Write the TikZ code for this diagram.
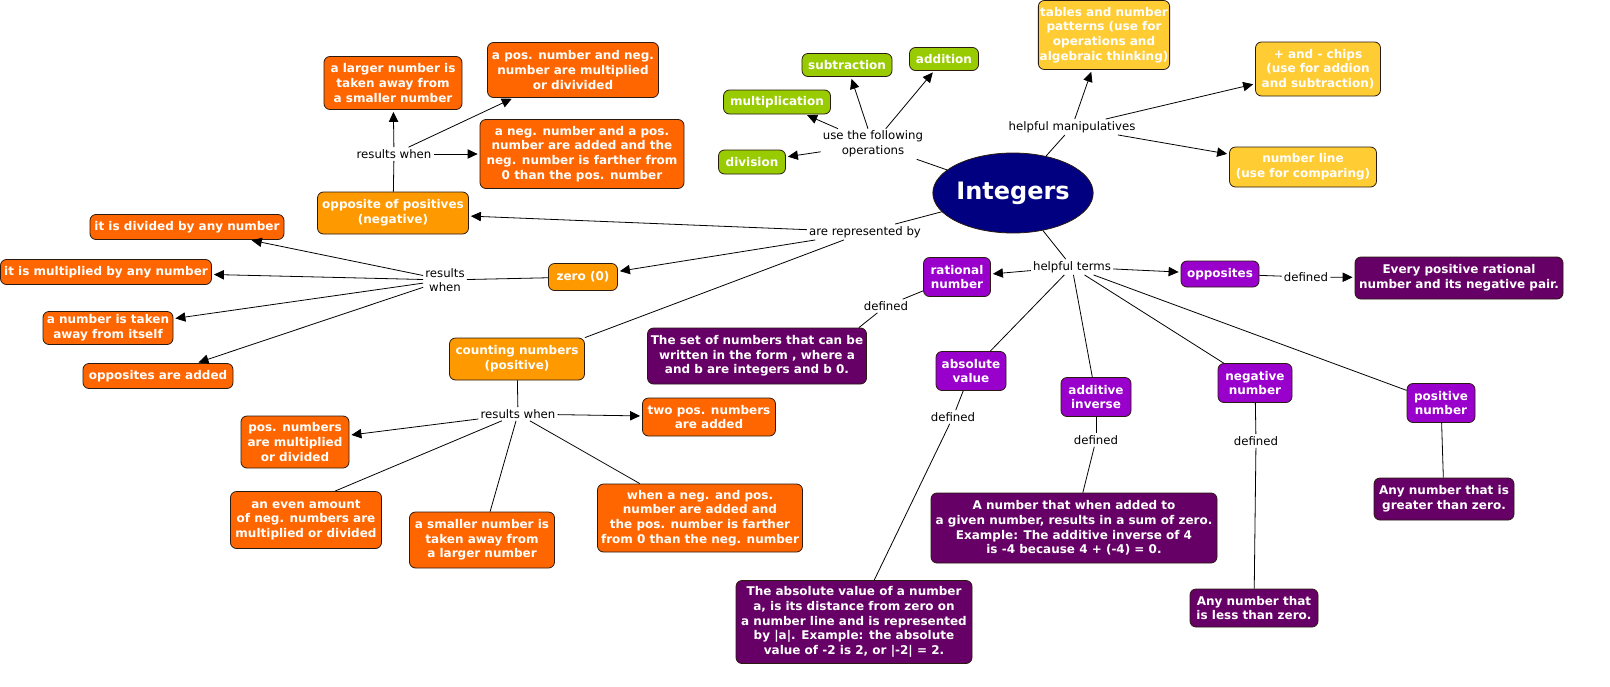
\documentclass[tikz,border=0pt]{standalone}
\usepackage{fontspec}
\setmainfont{DejaVu Sans}
\usetikzlibrary{arrows.meta,shapes.geometric}
\definecolor{cgreen}{HTML}{99CC00}
\definecolor{cyellow}{HTML}{FFCC33}
\definecolor{corange}{HTML}{FF9900}
\definecolor{cdorange}{HTML}{FF6600}
\definecolor{cpurple}{HTML}{9900CC}
\definecolor{cdpurple}{HTML}{660066}
\definecolor{cnavy}{HTML}{000080}
\definecolor{cborder}{HTML}{2A1A10}
\newcommand\bxfont{\fontsize{9}{11}\selectfont}
\newcommand\lbfont{\fontsize{8.8}{11}\selectfont}
\tikzset{
  box/.style={draw=cborder, line width=0.6pt, rounded corners=4.5pt, align=center,
    text=white, font=\bfseries\bxfont, inner sep=1pt},
  sz/.style 2 args={minimum width=#1*0.75pt, minimum height=#2*0.75pt},
  lbl/.style={align=center, font=\lbfont, inner sep=1.5pt, text=black},
  ln/.style={draw=black, line width=0.6pt},
  ar/.style={ln, shorten >=1.5pt, -{Triangle[length=7.5pt,width=7pt]}},
}
\begin{document}
\begin{tikzpicture}[x=0.75pt,y=-0.75pt]
\fill[white] (0,0) rectangle (1610,686);
\useasboundingbox (0,0) rectangle (1610,686);

% central
\node[ellipse, fill=cnavy, draw=cborder, line width=0.6pt, minimum width=146*0.75pt, minimum height=80*0.75pt,
  inner sep=0pt, text=white, font=\bfseries\fontsize{18}{20}\selectfont] (int) at (1013,193) {Integers};

% operations
\node[box, fill=cgreen, sz={90}{23}] (sub) at (847,65) {subtraction};
\node[box, fill=cgreen, sz={69}{23}] (add) at (944,59) {addition};
\node[box, fill=cgreen, sz={107}{24}] (mul) at (777,102) {multiplication};
\node[box, fill=cgreen, sz={67}{24}] (div) at (752,162) {division};
\node[lbl] (uto) at (873,144) {use the following\\operations};

% manipulatives
\node[box, fill=cyellow, sz={113}{69}] (tab) at (1104,35) {tables and number\\patterns (use for\\operations and\\algebraic thinking)};
\node[box, fill=cyellow, sz={125}{54}] (chp) at (1318,69) {+ and - chips\\(use for addion\\and subtraction)};
\node[box, fill=cyellow, sz={147}{40}] (nli) at (1303,167) {number line\\(use for comparing)};
\node[lbl] (hm) at (1072,127) {helpful manipulatives};

% represented
\node[lbl] (arb) at (865,232) {are represented by};
\node[box, fill=corange, sz={151}{42}] (opp) at (393,213) {opposite of positives\\(negative)};
\node[box, fill=corange, sz={69}{27}] (zer) at (583,277) {zero (0)};
\node[box, fill=corange, sz={135}{42}] (cnt) at (517,359) {counting numbers\\(positive)};

% negative results
\node[lbl] (rw1) at (394,154) {results when};
\node[box, fill=cdorange, sz={138}{53}] (lrg) at (393,83) {a larger number is\\taken away from\\a smaller number};
\node[box, fill=cdorange, sz={171}{55}] (pnm) at (573,70) {a pos. number and neg.\\number are multiplied\\or divivided};
\node[box, fill=cdorange, sz={204}{69}] (npa) at (582,154) {a neg. number and a pos.\\number are added and the\\neg. number is farther from\\0 than the pos. number};

% zero results
\node[lbl] (rw2) at (445,280) {results\\when};
\node[box, fill=cdorange, sz={194}{25}] (dvd) at (187,227) {it is divided by any number};
\node[box, fill=cdorange, sz={211}{25}] (mlt) at (106,272) {it is multiplied by any number};
\node[box, fill=cdorange, sz={130}{33}] (tks) at (108,328) {a number is taken\\away from itself};
\node[box, fill=cdorange, sz={150}{25}] (opa) at (158,376) {opposites are added};

% positive results
\node[lbl] (rw3) at (518,414) {results when};
\node[box, fill=cdorange, sz={108}{52}] (pmd) at (295,442) {pos. numbers\\are multiplied\\or divided};
\node[box, fill=cdorange, sz={133}{38}] (tpa) at (709,417) {two pos. numbers\\are added};
\node[box, fill=cdorange, sz={151}{57}] (eve) at (306,520) {an even amount\\of neg. numbers are\\multiplied or divided};
\node[box, fill=cdorange, sz={145}{56}] (sml) at (482,540) {a smaller number is\\taken away from\\a larger number};
\node[box, fill=cdorange, sz={205}{68}] (wnp) at (700,518) {when a neg. and pos.\\number are added and\\the pos. number is farther\\from 0 than the neg. number};

% helpful terms
\node[lbl] (ht) at (1072,267) {helpful terms};
\node[box, fill=cpurple, sz={67}{39}] (rat) at (957,277) {rational\\number};
\node[box, fill=cpurple, sz={78}{26}] (ops) at (1220,274) {opposites};
\node[box, fill=cpurple, sz={70}{39}] (abv) at (971,371) {absolute\\value};
\node[box, fill=cpurple, sz={70}{39}] (adi) at (1096,397) {additive\\inverse};
\node[box, fill=cpurple, sz={74}{39}] (neg) at (1255,383) {negative\\number};
\node[box, fill=cpurple, sz={68}{39}] (pos) at (1441,403) {positive\\number};

% definitions
\node[box, fill=cdpurple, sz={208}{42}] (evp) at (1459,278) {Every positive rational\\number and its negative pair.};
\node[box, fill=cdpurple, sz={219}{56}] (set) at (757,356) {The set of numbers that can be\\written in the form , where a\\and b are integers and b 0.};
\node[box, fill=cdpurple, sz={236}{83}] (abd) at (854,622) {The absolute value of a number\\a, is its distance from zero on\\a number line and is represented\\by |a|. Example: the absolute\\value of -2 is 2, or |-2| = 2.};
\node[box, fill=cdpurple, sz={286}{70}] (add2) at (1074,528) {A number that when added to\\a given number, results in a sum of zero.\\Example: The additive inverse of 4\\is -4 because 4 + (-4) = 0.};
\node[box, fill=cdpurple, sz={128}{38}] (lss) at (1254,608) {Any number that\\is less than zero.};
\node[box, fill=cdpurple, sz={140}{42}] (grt) at (1444,499) {Any number that is\\greater than zero.};

\node[lbl] (d1) at (886,306) {defined};
\node[lbl] (d2) at (1306,277) {defined};
\node[lbl] (d3) at (953,417) {defined};
\node[lbl] (d4) at (1096,440) {defined};
\node[lbl] (d5) at (1256,441) {defined};

% connectors
\draw[ln] (int) -- (uto);
\draw[ar] (uto) -- (div);
\draw[ar] (uto) -- (mul);
\draw[ar] (uto) -- (sub);
\draw[ar] (uto) -- (add);

\draw[ln] (int) -- (hm);
\draw[ar] (hm) -- (tab);
\draw[ar] (hm) -- (chp);
\draw[ar] (hm) -- (nli);

\draw[ln] (int) -- (arb);
\draw[ar] (arb) -- (opp);
\draw[ar] (arb) -- (zer);
\draw[ln] (arb) -- (cnt.north east);

\draw[ln] (opp) -- (rw1);
\draw[ar] (rw1) -- (lrg);
\draw[ar] (rw1) -- (pnm);
\draw[ar] (rw1) -- (npa);

\draw[ln] (zer) -- (rw2);
\draw[ar] (rw2) -- (dvd);
\draw[ar] (rw2) -- (mlt);
\draw[ar] (rw2) -- (tks);
\draw[ar] (rw2) -- (opa);

\draw[ln] (cnt) -- (rw3);
\draw[ar] (rw3) -- (pmd);
\draw[ar] (rw3) -- (tpa);
\draw[ln] (rw3) -- ([xshift=21.75pt]eve.north);
\draw[ln] (rw3) -- (sml);
\draw[ln] (rw3) -- (wnp);

\draw[ln] (int) -- (ht);
\draw[ar] (ht) -- (rat);
\draw[ar] (ht) -- (ops);
\draw[ln] (ht) -- (abv);
\draw[ln] (ht) -- (adi);
\draw[ln] (ht) -- (neg);
\draw[ln] (ht) -- (pos);

\draw[ln] (rat) -- (d1);
\draw[ln] (d1) -- ([xshift=-6pt]set.north east);
\draw[ln] (ops) -- (d2);
\draw[ar] (d2) -- (evp);
\draw[ln] (abv) -- (d3);
\draw[ln] (d3) -- (abd);
\draw[ln] (adi) -- (d4);
\draw[ln] (d4) -- (add2);
\draw[ln] (neg) -- (d5);
\draw[ln] (d5) -- (lss);
\draw[ln] (pos) -- (grt);
\end{tikzpicture}
\end{document}
